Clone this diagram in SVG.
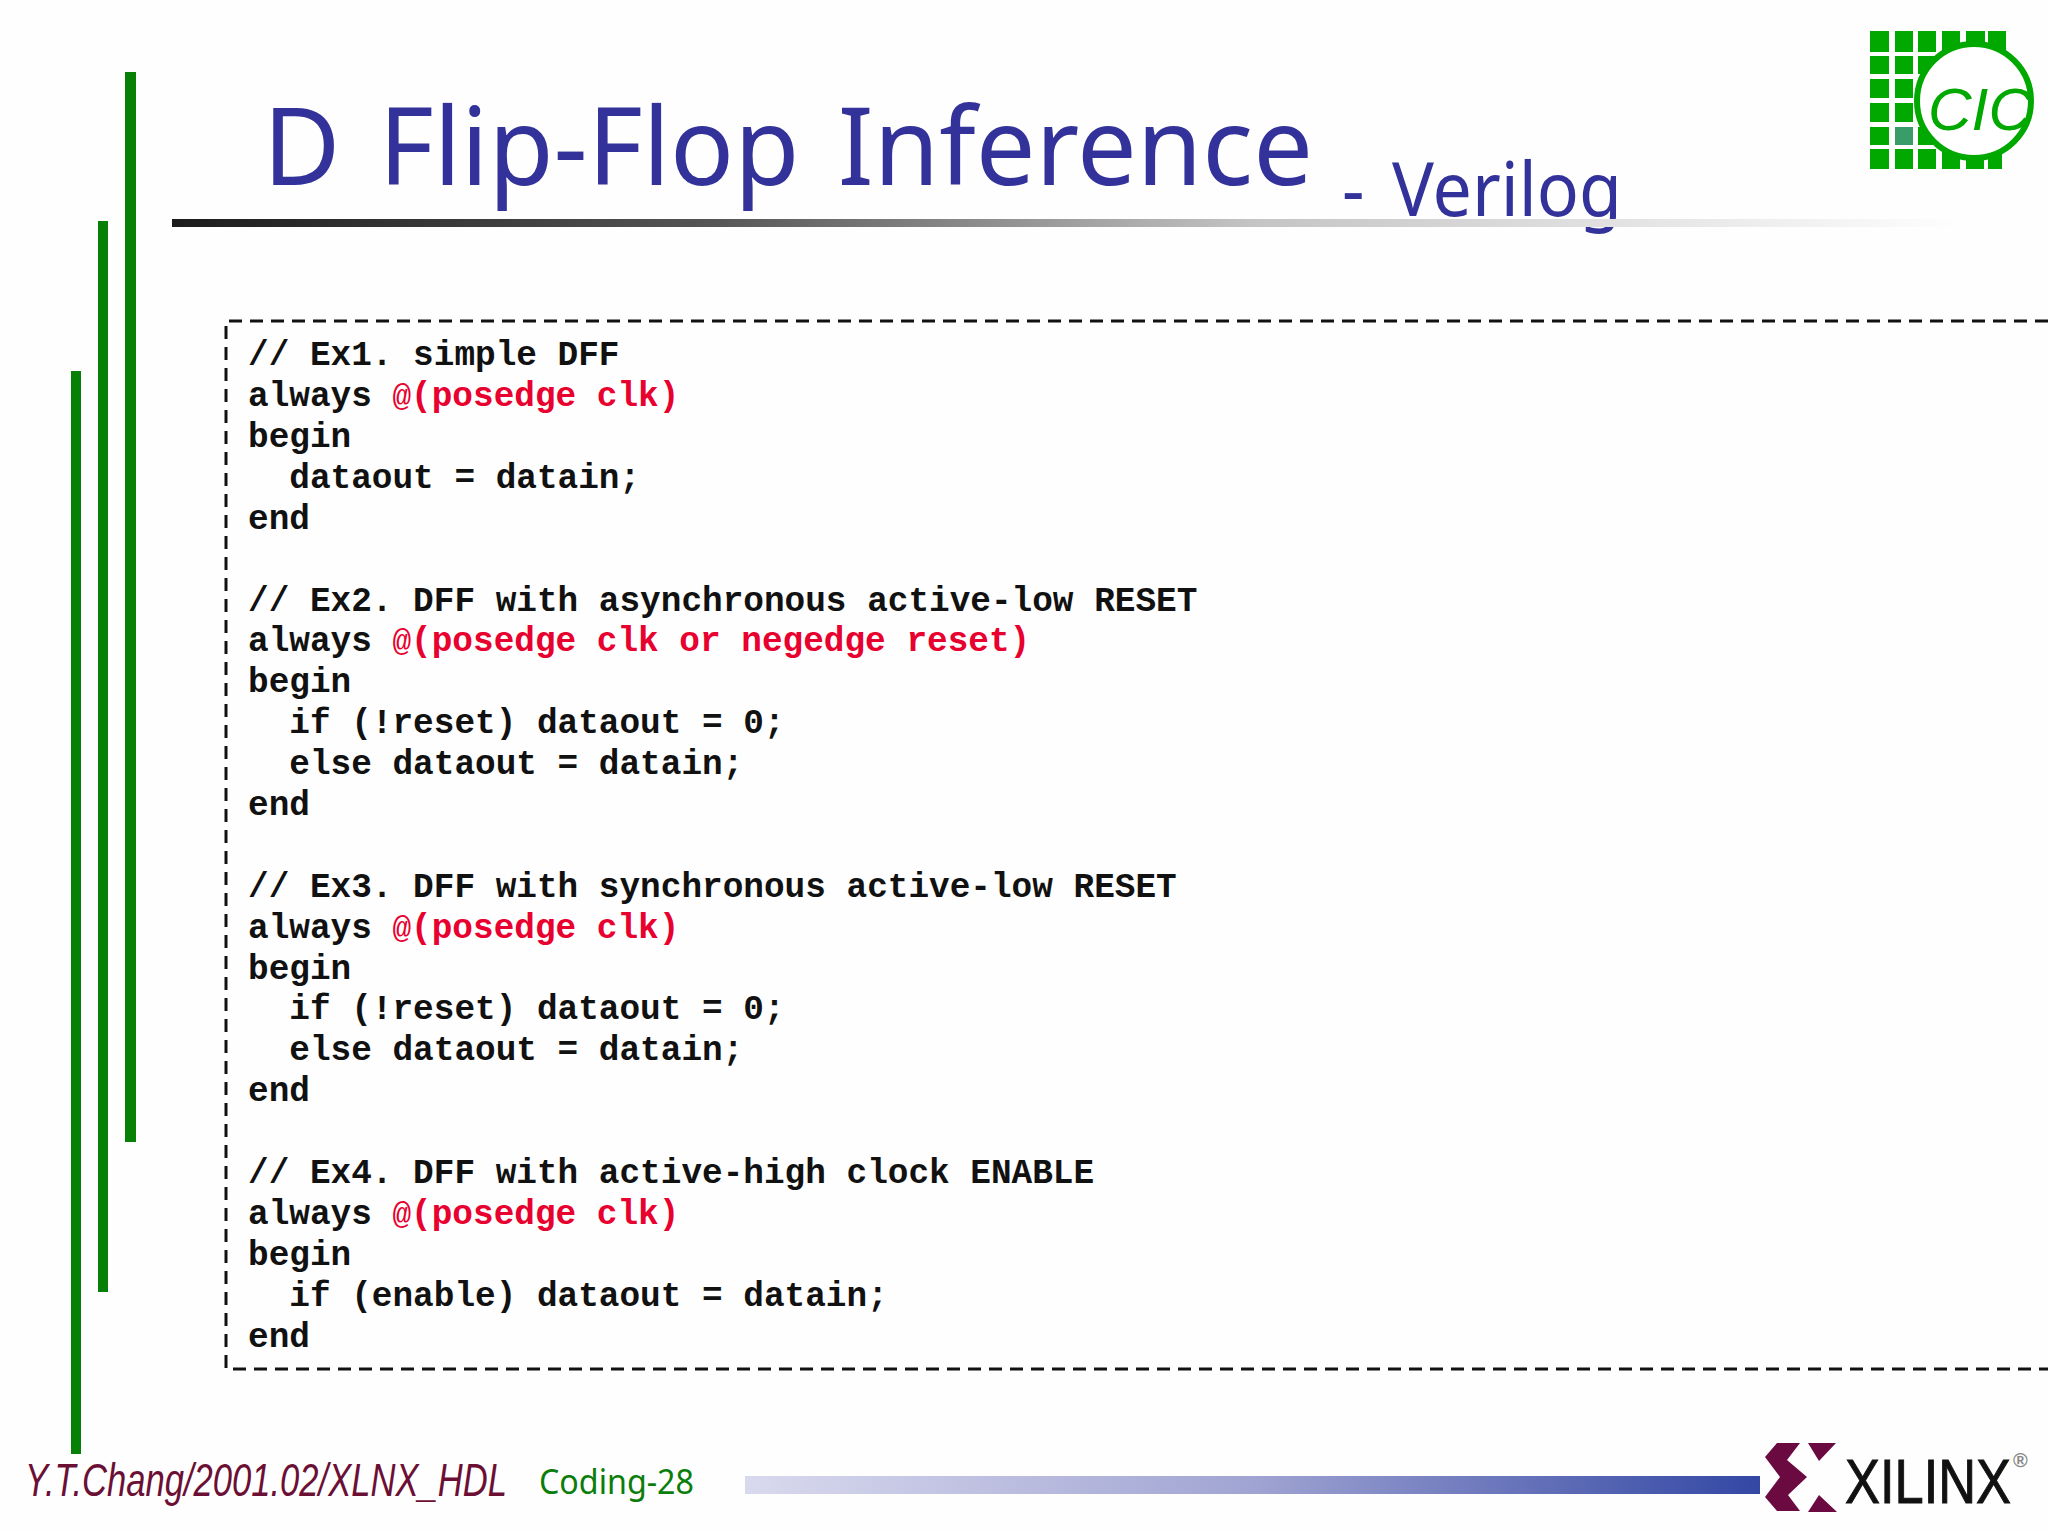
<svg xmlns="http://www.w3.org/2000/svg" width="2048" height="1530" viewBox="0 0 2048 1530">
<style>
.code{font-family:"Liberation Mono","Courier New",monospace;font-weight:700;font-size:34.4px;fill:#111;white-space:pre}
.r{fill:#e8002e}
.at{font-size:31px;font-weight:400}
.bar{fill:#068006}
.t{font-family:"Noto Sans","DejaVu Sans",sans-serif;fill:#32329a}
.g{fill:#00a800}
</style>
<defs>
<linearGradient id="g1"><stop offset="0" stop-color="#1c1c1c"/><stop offset=".3" stop-color="#555"/><stop offset=".6" stop-color="#c4c4c4"/><stop offset="1" stop-color="#fff"/></linearGradient>
<linearGradient id="g2"><stop offset="0" stop-color="#d9d9ee"/><stop offset=".5" stop-color="#a0a4d2"/><stop offset="1" stop-color="#3347a4"/></linearGradient>
</defs>
<rect width="2048" height="1530" fill="#fefefe"/>
<g id="bars">
<rect class="bar" x="125" y="72" width="11" height="1070"/>
<rect class="bar" x="98" y="221" width="10" height="1071"/>
<rect class="bar" x="71" y="371" width="10" height="1083"/>
</g>
<g id="title">
<text class="t" x="263" y="185" font-size="108" word-spacing="11" textLength="1050" lengthAdjust="spacingAndGlyphs">D Flip-Flop Inference</text>
<text class="t" x="1342" y="216" font-size="74" word-spacing="10" textLength="280" lengthAdjust="spacingAndGlyphs">- Verilog</text>
<rect x="172" y="219" width="1800" height="8" fill="url(#g1)"/>
</g>
<g id="logo-cic">
<path class="g" d="M1870 31h19v21h-19zM1895 31h18v21h-18zM1918 31h18v21h-18zM1942 31h18v21h-18zM1966 31h19v21h-19zM1988 31h18v21h-18zM1870 56h19v18h-19zM1895 56h18v18h-18zM1918 56h18v18h-18zM1870 79h19v19h-19zM1895 79h18v19h-18zM1918 79h18v19h-18zM1870 103h19v19h-19zM1895 103h18v19h-18zM1918 103h18v19h-18zM1870 127h19v18h-19zM1918 127h18v18h-18zM1870 149h19v20h-19zM1895 149h18v20h-18zM1918 149h18v20h-18zM1942 149h18v20h-18zM1966 149h18v20h-18zM1988 149h14v20h-14z"/>
<rect x="1895" y="127" width="18" height="18" fill="#3a9c68"/>
<circle cx="1974" cy="101" r="57" fill="#fff" stroke="#00a800" stroke-width="6"/>
<text x="1928" y="130" font-family="'Liberation Sans',sans-serif" font-style="italic" font-size="60" fill="#00a800" textLength="104" lengthAdjust="spacingAndGlyphs">CIC</text>
</g>
<g id="code-box">
<path d="M2048 321H226V1369H2048" fill="none" stroke="#111" stroke-width="3" stroke-dasharray="13 8"/>
<text class="code" x="248" y="365">// Ex1. simple DFF</text>
<text class="code" x="248" y="405.9">always <tspan class="r"><tspan class="at">@</tspan>(posedge clk)</tspan></text>
<text class="code" x="248" y="446.8">begin</text>
<text class="code" x="248" y="487.7">  dataout = datain;</text>
<text class="code" x="248" y="528.6">end</text>
<text class="code" x="248" y="610.5">// Ex2. DFF with asynchronous active-low RESET</text>
<text class="code" x="248" y="651.4">always <tspan class="r"><tspan class="at">@</tspan>(posedge clk or negedge reset)</tspan></text>
<text class="code" x="248" y="692.3">begin</text>
<text class="code" x="248" y="733.2">  if (!reset) dataout = 0;</text>
<text class="code" x="248" y="774.1">  else dataout = datain;</text>
<text class="code" x="248" y="815">end</text>
<text class="code" x="248" y="896.7">// Ex3. DFF with synchronous active-low RESET</text>
<text class="code" x="248" y="937.6">always <tspan class="r"><tspan class="at">@</tspan>(posedge clk)</tspan></text>
<text class="code" x="248" y="978.5">begin</text>
<text class="code" x="248" y="1019.4">  if (!reset) dataout = 0;</text>
<text class="code" x="248" y="1060.3">  else dataout = datain;</text>
<text class="code" x="248" y="1101.2">end</text>
<text class="code" x="248" y="1182.9">// Ex4. DFF with active-high clock ENABLE</text>
<text class="code" x="248" y="1223.8">always <tspan class="r"><tspan class="at">@</tspan>(posedge clk)</tspan></text>
<text class="code" x="248" y="1264.7">begin</text>
<text class="code" x="248" y="1305.6">  if (enable) dataout = datain;</text>
<text class="code" x="248" y="1346.5">end</text>
</g>
<g id="footer">
<text transform="translate(25 1496) scale(.81 1)" font-family="'Liberation Sans',sans-serif" font-style="italic" font-size="46" fill="#6b0f35" textLength="595" lengthAdjust="spacingAndGlyphs">Y.T.Chang/2001.02/XLNX_HDL</text>
<text x="539" y="1494" font-family="'Noto Sans',sans-serif" font-size="35" fill="#0a7d0a" textLength="155" lengthAdjust="spacingAndGlyphs">Coding-28</text>
<rect x="745" y="1476" width="1015" height="18" fill="url(#g2)"/>
</g>
<g id="logo-xilinx">
<path fill="#6b0a40" d="M1777 1443H1800L1787 1460 1807 1477 1788 1495 1800 1511H1777L1765 1497 1780 1477 1765 1457ZM1808 1443H1836L1819 1461ZM1819 1495 1837 1512H1808Z"/>
<text transform="translate(1845 1503) scale(.83 1)" font-family="'Liberation Sans',sans-serif" font-size="63" fill="#111" stroke="#111" stroke-width="1" textLength="200" lengthAdjust="spacingAndGlyphs">XILINX</text>
<text x="2013" y="1467" font-family="'Liberation Sans',sans-serif" font-size="20" font-weight="700" fill="#888">®</text>
</g>
</svg>
